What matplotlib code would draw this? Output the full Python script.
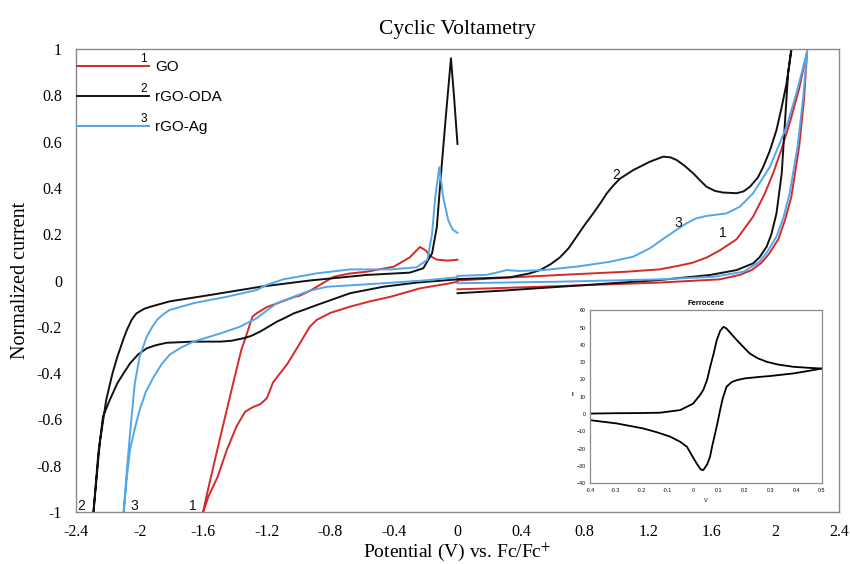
import matplotlib
matplotlib.use('Agg')
import matplotlib.pyplot as plt
import numpy as np

# ---- main CV data, each loop split at 0 V ----
go_neg_x = [0.0, -0.047, -0.236, -0.42, -0.55, -0.676, -0.80, -0.885, -0.93, -0.99, -1.07, -1.16,
            -1.20, -1.24, -1.29, -1.336, -1.39, -1.45, -1.51, -1.565, -1.60,
            -1.585, -1.56, -1.49, -1.41, -1.36, -1.33, -1.29, -1.26, -1.20, -1.14, -1.03, -0.99,
            -0.93, -0.885, -0.78, -0.68, -0.57, -0.40, -0.30, -0.236, -0.20, -0.17, -0.13, -0.06, 0.0]
go_neg_y = [-0.005, -0.012, -0.034, -0.07, -0.09, -0.113, -0.14, -0.17, -0.20, -0.27, -0.36, -0.44,
            -0.509, -0.534, -0.548, -0.567, -0.63, -0.73, -0.85, -0.93, -1.0,
            -0.95, -0.875, -0.67, -0.44, -0.30, -0.24, -0.156, -0.14, -0.115, -0.10, -0.072, -0.065,
            -0.045, -0.027, 0.016, 0.03, 0.038, 0.06, 0.10, 0.145, 0.13, 0.105, 0.09, 0.086, 0.09]
go_pos_x = [0.0, 0.3, 0.645, 1.064, 1.27, 1.40, 1.48, 1.57, 1.65, 1.756, 1.86, 1.93, 1.986, 2.04,
            2.09, 2.15, 2.2,
            2.18, 2.15, 2.10, 2.06, 2.02, 1.96, 1.91, 1.85, 1.78, 1.65, 1.27, 0.645, 0.2, 0.0]
go_pos_y = [0.0, 0.012, 0.024, 0.038, 0.048, 0.065, 0.077, 0.10, 0.13, 0.178, 0.276, 0.37, 0.463, 0.57,
            0.68, 0.83, 0.99,
            0.78, 0.58, 0.36, 0.26, 0.18, 0.115, 0.075, 0.045, 0.025, 0.005, -0.009, -0.024, -0.034, -0.038]

oda_neg_x = [0.0, -0.257, -0.467, -0.676, -0.885, -0.96, -1.03, -1.096, -1.137, -1.19, -1.24, -1.30,
             -1.35, -1.42, -1.49, -1.66, -1.83, -1.90, -1.955, -2.01, -2.06, -2.10, -2.14, -2.19,
             -2.23, -2.26, -2.29,
             -2.27, -2.25, -2.21, -2.17, -2.14, -2.10, -2.08, -2.05, -2.02, -1.97, -1.93, -1.81,
             -1.56, -1.24, -0.93, -0.57, -0.30, -0.215, -0.16, -0.13, -0.10, -0.068, -0.041, -0.02, 0.0]
oda_neg_y = [0.005, -0.009, -0.027, -0.055, -0.106, -0.125, -0.142, -0.165, -0.178, -0.20, -0.22, -0.24,
             -0.25, -0.26, -0.264, -0.264, -0.269, -0.28, -0.293, -0.32, -0.358, -0.40, -0.444, -0.52,
             -0.588, -0.75, -1.0,
             -0.85, -0.70, -0.516, -0.40, -0.33, -0.25, -0.214, -0.17, -0.142, -0.122, -0.113, -0.09,
             -0.063, -0.027, 0.0, 0.024, 0.034, 0.053, 0.117, 0.23, 0.49, 0.75, 0.96, 0.78, 0.59]
oda_pos_x = [0.0, 0.33, 0.45, 0.52, 0.585, 0.645, 0.70, 0.75, 0.80, 0.854, 0.90, 0.94, 0.98, 1.022,
             1.106, 1.21, 1.294, 1.34, 1.38, 1.43, 1.483, 1.53, 1.567, 1.62, 1.67, 1.756, 1.80, 1.84,
             1.89, 1.923, 1.965, 2.007, 2.04, 2.07, 2.10, 2.115,
             2.08, 2.06, 2.04, 2.007, 1.975, 1.945, 1.90, 1.86, 1.756, 1.59, 1.27, 0.645, 0.3, 0.0]
oda_pos_y = [0.006, 0.014, 0.03, 0.045, 0.07, 0.10, 0.14, 0.19, 0.24, 0.29, 0.335, 0.377, 0.41, 0.44,
             0.477, 0.513, 0.535, 0.532, 0.52, 0.495, 0.463, 0.43, 0.405, 0.387, 0.38, 0.377, 0.385, 0.405,
             0.445, 0.49, 0.56, 0.65, 0.75, 0.85, 0.99, 1.08,
             0.895, 0.68, 0.463, 0.29, 0.20, 0.146, 0.10, 0.074, 0.045, 0.024, 0.002, -0.027, -0.043, -0.055]

ag_neg_x = [0.0, -0.215, -0.467, -0.82, -0.93, -1.03, -1.137, -1.20, -1.263, -1.37, -1.49, -1.66,
            -1.74, -1.81, -1.86, -1.91, -1.96, -2.0, -2.03, -2.06, -2.08, -2.10,
            -2.08, -2.06, -2.03, -2.0, -1.955, -1.92, -1.89, -1.85, -1.81, -1.66, -1.45, -1.263,
            -1.20, -1.096, -0.885, -0.676, -0.42, -0.257, -0.19, -0.16, -0.14, -0.114, -0.09,
            -0.058, -0.03, 0.0]
ag_neg_y = [0.014, 0.0, -0.012, -0.027, -0.044, -0.07, -0.098, -0.13, -0.163, -0.20, -0.228, -0.264,
            -0.29, -0.32, -0.36, -0.415, -0.48, -0.56, -0.64, -0.73, -0.85, -1.0,
            -0.82, -0.66, -0.444, -0.33, -0.243, -0.20, -0.17, -0.145, -0.127, -0.098, -0.07, -0.041,
            -0.019, 0.005, 0.031, 0.048, 0.048, 0.057, 0.089, 0.20, 0.36, 0.49, 0.36,
            0.26, 0.22, 0.206]
ag_pos_x = [0.0, 0.18, 0.25, 0.31, 0.39, 0.54, 0.75, 0.96, 1.106, 1.21, 1.316, 1.44, 1.50, 1.567,
            1.693, 1.777, 1.86, 1.965, 2.07, 2.133, 2.2,
            2.175, 2.14, 2.09, 2.05, 2.007, 1.95, 1.90, 1.80, 1.61, 1.27, 0.645, 0.0]
ag_pos_y = [0.02, 0.024, 0.035, 0.045, 0.041, 0.045, 0.06, 0.081, 0.103, 0.139, 0.19, 0.247, 0.268, 0.279,
            0.29, 0.319, 0.377, 0.49, 0.664, 0.81, 0.99,
            0.79, 0.58, 0.377, 0.27, 0.19, 0.125, 0.081, 0.038, 0.016, 0.005, -0.005, -0.012]

series_names = ['GO', 'rGO-ODA', 'rGO-Ag']
series_nums = ['1', '2', '3']
series_colors = ['#d42a2a', '#111111', '#52a6ea']

x_ticks = [-2.4, -2.0, -1.6, -1.2, -0.8, -0.4, 0.0, 0.4, 0.8, 1.2, 1.6, 2.0, 2.4]
x_tick_labels = ['-2.4', '-2', '-1.6', '-1.2', '-0.8', '-0.4', '0', '0.4', '0.8', '1.2', '1.6', '2', '2.4']
y_ticks = [-1.0, -0.8, -0.6, -0.4, -0.2, 0.0, 0.2, 0.4, 0.6, 0.8, 1.0]
y_tick_labels = ['-1', '-0.8', '-0.6', '-0.4', '-0.2', '0', '0.2', '0.4', '0.6', '0.8', '1']

# ---- ferrocene inset data ----
fc_fwd_x = [-0.4, -0.3, -0.2, -0.128, -0.05, 0.0, 0.027, 0.04, 0.055, 0.066, 0.08, 0.092, 0.105,
            0.118, 0.13, 0.15, 0.17, 0.2, 0.22, 0.25, 0.286, 0.33, 0.39, 0.45, 0.5]
fc_fwd_y = [0.3, 0.5, 0.6, 0.8, 2.3, 6, 11, 14, 20, 27, 35, 42.7, 48,
            50.4, 49.4, 46, 42.7, 38, 35, 32.3, 30.2, 28.6, 27.3, 26.7, 26.3]
fc_rev_x = [0.5, 0.45, 0.39, 0.3, 0.26, 0.2, 0.17, 0.15, 0.13, 0.115, 0.105, 0.095, 0.086, 0.075,
            0.066, 0.055, 0.04, 0.03, 0.014, 0.0, -0.024, -0.05, -0.089, -0.14, -0.193, -0.296, -0.4]
fc_rev_y = [26.3, 25, 23.5, 22, 21.5, 20.6, 19.6, 18.5, 15.8, 9, 2.3, -5, -11, -18,
            -24.6, -29, -32.3, -32, -28.5, -25, -18.8, -16, -13, -10.5, -8.3, -5.4, -3.5]

serif = 'Liberation Serif'
sans = 'Liberation Sans'
plt.rcParams['mathtext.fontset'] = 'stix'

fig = plt.figure(figsize=(8.5, 5.64), dpi=100)
ax = fig.add_axes([0.0894, 0.0922, 0.8976, 0.8209])

loops = [(go_neg_x, go_neg_y, go_pos_x, go_pos_y),
         (oda_neg_x, oda_neg_y, oda_pos_x, oda_pos_y),
         (ag_neg_x, ag_neg_y, ag_pos_x, ag_pos_y)]
handles = []
for (nx, ny, px, py), name, col in zip(loops, series_names, series_colors):
    ln, = ax.plot(nx, ny, color=col, lw=1.4, label=name)
    ax.plot(px, py, color=col, lw=1.4)
    handles.append(ln)

ax.set_xlim(-2.4, 2.4)
ax.set_ylim(-1, 1)
ax.set_xticks(x_ticks)
ax.set_xticklabels(x_tick_labels, fontfamily=serif, fontsize=11.5)
ax.set_yticks(y_ticks)
ax.set_yticklabels(y_tick_labels, fontfamily=serif, fontsize=11.5)
ax.tick_params(axis='x', length=0, pad=9)
ax.tick_params(axis='y', length=0, pad=10)
for sp in ax.spines.values():
    sp.set_color('#8a8a8a')
    sp.set_linewidth(1.0)

ax.set_title('Cyclic Voltametry', fontfamily=serif, fontsize=15.5, pad=11)
ax.set_xlabel('Potential (V) vs. Fc/Fc$^{+}$', fontfamily=serif, fontsize=14, labelpad=0)
ax.set_ylabel('Normalized current', fontfamily=serif, fontsize=14.5, labelpad=5)

# curve number labels
num_font = dict(fontfamily=sans, fontsize=10, color='#111111')
ax.text(-2.366, -0.975, '2', ha='center', va='center', **num_font)
ax.text(-2.035, -0.975, '3', ha='center', va='center', **num_font)
ax.text(-1.665, -0.975, '1', ha='center', va='center', **num_font)
ax.text(1.00, 0.456, '2', ha='center', va='center', **num_font)
ax.text(1.39, 0.25, '3', ha='center', va='center', **num_font)
ax.text(1.67, 0.206, '1', ha='center', va='center', **num_font)

leg = ax.legend(handles=handles, loc='upper left', bbox_to_anchor=(0.001, 0.976),
                frameon=False, borderaxespad=0, borderpad=0, handlelength=4.7,
                handletextpad=0.45, labelspacing=1.05, prop={'family': sans, 'size': 11})

# inset
ins = fig.add_axes([0.694, 0.143, 0.273, 0.307])
ins.plot(fc_fwd_x, fc_fwd_y, color='black', lw=1.3)
ins.plot(fc_rev_x, fc_rev_y, color='black', lw=1.3)
ins.set_xlim(-0.4, 0.5)
ins.set_ylim(-40, 60)
ins.set_xticks(np.round(np.arange(-0.4, 0.51, 0.1), 1))
ins.set_xticklabels(['-0.4', '-0.3', '-0.2', '-0.1', '0', '0.1', '0.2', '0.3', '0.4', '0.5'])
ins.set_yticks(np.arange(-40, 61, 10))
ins.tick_params(length=0, labelsize=3.8, pad=3)
for t in ins.get_xticklabels() + ins.get_yticklabels():
    t.set_fontfamily(sans)
for sp in ins.spines.values():
    sp.set_color('#8a8a8a')
    sp.set_linewidth(0.9)
ins.set_title('Ferrocene', fontfamily=sans, fontsize=5.5, fontweight='bold', pad=4)
ins.set_xlabel('V', fontfamily=sans, fontsize=4, labelpad=4)
ins.set_ylabel('I', fontfamily=sans, fontsize=4.5, fontweight='bold', rotation=0, labelpad=3)

# small numbers over the legend line ends
fig.canvas.draw()
r = fig.canvas.get_renderer()
for ln, num in zip(leg.get_lines(), series_nums):
    bb = ln.get_window_extent(r)
    fig.text(bb.x1 - 2, bb.y0 + 1, num, transform=None, ha='right', va='bottom',
             fontfamily=sans, fontsize=8.5)

fig.savefig('out.png', dpi=100)
